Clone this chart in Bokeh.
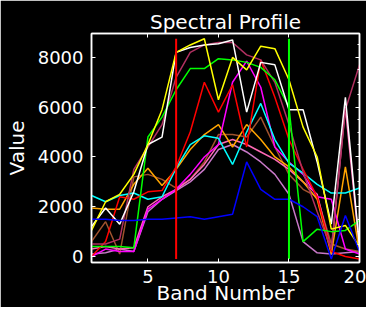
from bokeh.plotting import figure
from bokeh.models import Range1d, LinearAxis, FixedTicker, ColumnDataSource
from bokeh.embed import file_html
from bokeh.resources import INLINE

# ---- data ----
bands = list(range(1, 21))

yellow = [1050, 2200, 2500, 3300, 4500, 5900, 8200, 8500, 8750, 6300, 8000, 7500, 8450, 8350, 7100, 5200, 4000, 1100, 1250, 400]
white = [1200, 1950, 1300, 2600, 4500, 4800, 8200, 8400, 8500, 8550, 8700, 5800, 7800, 7700, 5900, 5900, 3800, 1300, 6400, 400]
maroon = [500, 500, 700, 3500, 4400, 5300, 7200, 8200, 8500, 8600, 8600, 8100, 7900, 7000, 5300, 3400, 1800, 300, 5900, 7700]
green = [400, 400, 400, 350, 4800, 5600, 6700, 7550, 7550, 7950, 7900, 7800, 7600, 7100, 6000, 600, 1100, 1000, 1050, 1450]
red = [0, 600, 2400, 2300, 2600, 2650, 3600, 5000, 7000, 5800, 6900, 4400, 7900, 6400, 4700, 3500, 2400, 200, 0, -100]
magenta = [0, 300, 200, 200, 1900, 2300, 2700, 3300, 4000, 4500, 7000, 7850, 6800, 4400, 3800, 3300, 2400, 2300, 300, 100]
cyan = [2450, 2200, 2450, 2550, 2300, 2400, 3550, 4500, 4850, 4750, 3700, 5000, 6150, 4700, 3750, 3350, 2900, 2550, 2550, 2750]
orange = [1950, 1900, 1900, 2900, 3550, 2850, 3500, 4300, 4900, 5300, 4400, 5300, 4700, 4000, 3600, 3000, 2300, 100, 3600, 200]
brown = [600, 1400, 100, 3200, 3300, 3100, 2750, 3100, 3800, 4900, 4900, 4800, 5600, 4400, 3300, 2700, 2400, 500, 300, 200]
orchid = [100, 150, 300, 200, 1800, 2300, 2650, 3000, 3500, 4300, 4500, 4200, 3800, 3300, 2500, 600, 150, 100, 150, 200]
pink = [300, 400, 300, 350, 2000, 2400, 2700, 3100, 3700, 4500, 4700, 4500, 4200, 3900, 3500, 3000, 2500, 200, 6000, 300]
blue = [1500, 1500, 1450, 1450, 1500, 1500, 1550, 1600, 1500, 1600, 1700, 3800, 2700, 2300, 2300, 2000, 1600, -100, 1650, 200]

series = [
    (orchid, "#c878c8"),
    (brown, "#a0522d"),
    (pink, "#ff69b4"),
    (orange, "#ffa500"),
    (magenta, "#ff00ff"),
    (cyan, "#00ffff"),
    (red, "#ff0000"),
    (maroon, "#b03060"),
    (green, "#00ff00"),
    (white, "#ffffff"),
    (yellow, "#ffff00"),
    (blue, "#0000ff"),
]

marker_bands = [7, 15]
marker_colors = ["#ff0000", "#00ff00"]
marker_low = [-100, -100]
marker_high = [8750, 8750]

x_ticks = [5, 10, 15, 20]
y_ticks = [0, 2000, 4000, 6000, 8000]
y_minor = [v for v in range(0, 9000, 500) if v % 2000 != 0]

FONT = "DejaVu Sans"

p = figure(width=366, height=307, output_backend="svg", toolbar_location=None,
           x_range=Range1d(1, 20), y_range=Range1d(-240, 8960),
           background_fill_color="black", border_fill_color="black",
           min_border_left=91, min_border_right=7, min_border_top=33, min_border_bottom=44,
           title="Spectral Profile")
p.outline_line_color = "white"
p.outline_line_width = 1.5
p.grid.visible = False

p.title.text_color = "white"
p.title.text_font = FONT
p.title.text_font_size = "20px"
p.title.text_font_style = "normal"
p.title.align = "center"
p.title.standoff = 0


def style(ax, label_size="18px"):
    ax.axis_line_color = "white"
    ax.axis_line_width = 1.5
    ax.major_tick_line_color = "white"
    ax.minor_tick_line_color = "white"
    ax.major_tick_in = 4
    ax.major_tick_out = 0
    ax.minor_tick_in = 2
    ax.minor_tick_out = 0
    ax.major_label_text_color = "white"
    ax.major_label_text_font = FONT
    ax.major_label_text_font_size = label_size
    ax.axis_label_text_color = "white"
    ax.axis_label_text_font = FONT
    ax.axis_label_text_font_size = "20px"
    ax.axis_label_text_font_style = "normal"


def hide_labels(ax):
    ax.major_label_text_color = None
    ax.major_label_text_font_size = "1px"
    ax.major_label_standoff = 0


xb = p.xaxis[0]
xb.ticker = FixedTicker(ticks=x_ticks, minor_ticks=[])
xb.axis_label = "Band Number"
style(xb)
xb.major_label_standoff = 7
xb.axis_label_standoff = -5

yl = p.yaxis[0]
yl.ticker = FixedTicker(ticks=y_ticks, minor_ticks=[])
yl.axis_label = "Value"
style(yl)
yl.major_label_standoff = 8
yl.axis_label_standoff = 6

yr = LinearAxis(ticker=FixedTicker(ticks=y_ticks, minor_ticks=y_minor))
style(yr)
hide_labels(yr)
p.add_layout(yr, "right")

xt = LinearAxis(ticker=FixedTicker(ticks=x_ticks[:-1], minor_ticks=[]))
style(xt)
hide_labels(xt)
p.add_layout(xt, "above")

for vals, col in series:
    p.line(bands, vals, line_color=col, line_width=1.5)

msrc = ColumnDataSource(dict(x=marker_bands, lo=marker_low, hi=marker_high, c=marker_colors))
p.segment(x0="x", y0="lo", x1="x", y1="hi", line_color="c", line_width=2, source=msrc)

open("out.html", "w").write(file_html(p, INLINE))
